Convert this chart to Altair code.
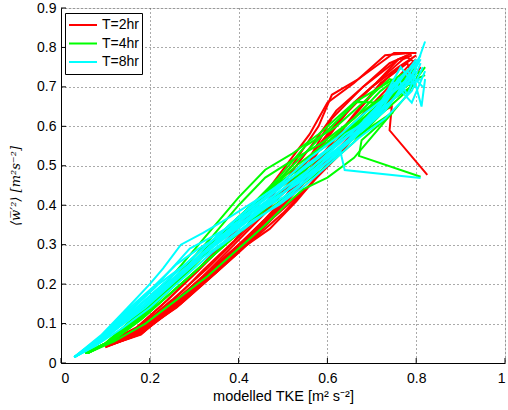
import altair as alt
import pandas as pd

series_names = ["T=2hr", "T=4hr", "T=8hr"]
series_colors = ["#ff0000", "#00ff00", "#00ffff"]

x_ticks = [0, 0.2, 0.4, 0.6, 0.8, 1.0]
y_ticks = [0, 0.1, 0.2, 0.3, 0.4, 0.5, 0.6, 0.7, 0.8, 0.9]

# T=2hr profiles
red_x = [
    [0.10, 0.17, 0.24, 0.31, 0.38, 0.45, 0.52, 0.58, 0.61, 0.67, 0.75, 0.80],
    [0.10, 0.175, 0.25, 0.32, 0.39, 0.46, 0.53, 0.60, 0.66, 0.72, 0.77, 0.79],
    [0.10, 0.18, 0.26, 0.33, 0.40, 0.47, 0.54, 0.61, 0.67, 0.73, 0.78, 0.80],
    [0.10, 0.18, 0.27, 0.34, 0.41, 0.48, 0.55, 0.62, 0.68, 0.74, 0.79, 0.81],
    [0.10, 0.18, 0.28, 0.35, 0.40, 0.47, 0.53, 0.59, 0.65, 0.71, 0.77, 0.80],
    [0.105, 0.175, 0.26, 0.34, 0.42, 0.49, 0.56, 0.63, 0.69, 0.745, 0.74, 0.825],
    [0.10, 0.17, 0.25, 0.33, 0.41, 0.50, 0.56, 0.61, 0.68, 0.76, 0.78, 0.80],
    [0.10, 0.18, 0.26, 0.33, 0.40, 0.46, 0.52, 0.59, 0.66, 0.72, 0.78, 0.79],
    [0.10, 0.175, 0.25, 0.32, 0.39, 0.45, 0.51, 0.57, 0.62, 0.68, 0.74, 0.78],
    [0.10, 0.18, 0.26, 0.33, 0.40, 0.47, 0.53, 0.59, 0.64, 0.70, 0.76, 0.80],
    [0.10, 0.18, 0.27, 0.34, 0.41, 0.48, 0.54, 0.60, 0.66, 0.71, 0.76, 0.79],
    [0.10, 0.175, 0.26, 0.34, 0.42, 0.50, 0.57, 0.64, 0.70, 0.75, 0.79],
    [0.10, 0.18, 0.27, 0.35, 0.43, 0.50, 0.56, 0.62, 0.68, 0.74, 0.80],
    [0.10, 0.17, 0.24, 0.31, 0.38, 0.44, 0.50, 0.56, 0.60, 0.66, 0.73, 0.78],
]
red_y = [
    [0.05, 0.09, 0.16, 0.24, 0.32, 0.41, 0.50, 0.60, 0.68, 0.72, 0.786, 0.786],
    [0.047, 0.085, 0.15, 0.22, 0.30, 0.38, 0.48, 0.58, 0.66, 0.72, 0.77, 0.78],
    [0.045, 0.08, 0.14, 0.21, 0.28, 0.36, 0.45, 0.55, 0.62, 0.69, 0.75, 0.77],
    [0.04, 0.075, 0.15, 0.22, 0.29, 0.37, 0.44, 0.52, 0.60, 0.67, 0.72, 0.75],
    [0.042, 0.072, 0.17, 0.23, 0.285, 0.34, 0.41, 0.49, 0.57, 0.63, 0.70, 0.74],
    [0.045, 0.08, 0.15, 0.23, 0.31, 0.39, 0.47, 0.55, 0.62, 0.65, 0.59, 0.477],
    [0.05, 0.085, 0.16, 0.24, 0.33, 0.43, 0.52, 0.62, 0.70, 0.77, 0.775, 0.76],
    [0.044, 0.078, 0.155, 0.225, 0.30, 0.365, 0.44, 0.53, 0.63, 0.71, 0.76, 0.73],
    [0.048, 0.082, 0.155, 0.235, 0.31, 0.39, 0.47, 0.56, 0.64, 0.70, 0.76, 0.78],
    [0.043, 0.076, 0.15, 0.22, 0.295, 0.37, 0.46, 0.56, 0.63, 0.70, 0.75, 0.78],
    [0.041, 0.074, 0.155, 0.225, 0.30, 0.38, 0.47, 0.57, 0.66, 0.71, 0.77, 0.785],
    [0.046, 0.079, 0.16, 0.24, 0.32, 0.41, 0.50, 0.60, 0.68, 0.74, 0.77],
    [0.042, 0.074, 0.16, 0.235, 0.31, 0.38, 0.45, 0.53, 0.61, 0.69, 0.76],
    [0.05, 0.088, 0.16, 0.235, 0.315, 0.40, 0.49, 0.58, 0.66, 0.71, 0.78, 0.785],
]

# T=4hr profiles
green_x = [
    [0.055, 0.10, 0.16, 0.22, 0.28, 0.34, 0.40, 0.46, 0.52, 0.58, 0.66, 0.72, 0.78, 0.80],
    [0.055, 0.11, 0.17, 0.23, 0.29, 0.35, 0.41, 0.47, 0.53, 0.60, 0.67, 0.73, 0.79],
    [0.06, 0.12, 0.18, 0.24, 0.30, 0.36, 0.42, 0.48, 0.54, 0.61, 0.68, 0.74, 0.80],
    [0.06, 0.12, 0.19, 0.26, 0.33, 0.40, 0.46, 0.515, 0.545, 0.60, 0.66, 0.72, 0.78, 0.81],
    [0.055, 0.12, 0.19, 0.26, 0.33, 0.40, 0.47, 0.54, 0.61, 0.70, 0.748, 0.677, 0.671, 0.81],
    [0.055, 0.11, 0.17, 0.24, 0.30, 0.37, 0.44, 0.50, 0.57, 0.63, 0.69, 0.75, 0.80],
    [0.06, 0.12, 0.18, 0.25, 0.32, 0.39, 0.45, 0.52, 0.58, 0.64, 0.70, 0.76, 0.82],
    [0.055, 0.10, 0.16, 0.22, 0.28, 0.35, 0.42, 0.49, 0.55, 0.62, 0.68, 0.74, 0.80],
    [0.06, 0.12, 0.18, 0.25, 0.32, 0.39, 0.46, 0.53, 0.60, 0.666, 0.72, 0.78],
    [0.055, 0.11, 0.17, 0.23, 0.29, 0.36, 0.43, 0.50, 0.57, 0.64, 0.70, 0.76, 0.81],
    [0.06, 0.12, 0.18, 0.24, 0.30, 0.36, 0.42, 0.48, 0.55, 0.62, 0.68, 0.75, 0.80],
    [0.055, 0.10, 0.16, 0.22, 0.28, 0.34, 0.40, 0.46, 0.53, 0.59, 0.66, 0.72, 0.79],
    [0.06, 0.12, 0.19, 0.26, 0.33, 0.40, 0.47, 0.54, 0.60, 0.66, 0.72, 0.78, 0.82],
    [0.055, 0.11, 0.18, 0.25, 0.31, 0.38, 0.44, 0.50, 0.56, 0.62, 0.69, 0.75, 0.80],
]
green_y = [
    [0.025, 0.05, 0.11, 0.18, 0.26, 0.34, 0.42, 0.49, 0.53, 0.58, 0.66, 0.70, 0.74, 0.76],
    [0.025, 0.055, 0.11, 0.17, 0.24, 0.31, 0.38, 0.44, 0.50, 0.56, 0.63, 0.68, 0.73],
    [0.025, 0.06, 0.11, 0.17, 0.23, 0.29, 0.35, 0.42, 0.48, 0.55, 0.61, 0.67, 0.72],
    [0.025, 0.055, 0.10, 0.16, 0.22, 0.29, 0.35, 0.41, 0.44, 0.47, 0.52, 0.60, 0.68, 0.74],
    [0.025, 0.06, 0.12, 0.19, 0.26, 0.33, 0.40, 0.47, 0.53, 0.60, 0.636, 0.565, 0.525, 0.472],
    [0.025, 0.055, 0.12, 0.19, 0.26, 0.34, 0.41, 0.45, 0.51, 0.57, 0.64, 0.70, 0.75],
    [0.025, 0.06, 0.12, 0.20, 0.28, 0.36, 0.42, 0.47, 0.52, 0.58, 0.64, 0.70, 0.73],
    [0.025, 0.05, 0.10, 0.16, 0.23, 0.31, 0.39, 0.47, 0.55, 0.60, 0.66, 0.72, 0.70],
    [0.025, 0.06, 0.12, 0.19, 0.27, 0.35, 0.43, 0.51, 0.59, 0.662, 0.66, 0.71],
    [0.025, 0.055, 0.115, 0.185, 0.25, 0.32, 0.39, 0.46, 0.53, 0.59, 0.65, 0.71, 0.74],
    [0.025, 0.06, 0.115, 0.18, 0.25, 0.32, 0.39, 0.45, 0.50, 0.55, 0.62, 0.68, 0.72],
    [0.025, 0.05, 0.105, 0.17, 0.245, 0.32, 0.40, 0.47, 0.52, 0.56, 0.62, 0.69, 0.75],
    [0.025, 0.06, 0.12, 0.19, 0.26, 0.33, 0.39, 0.45, 0.50, 0.56, 0.63, 0.69, 0.75],
    [0.025, 0.055, 0.12, 0.20, 0.27, 0.35, 0.41, 0.46, 0.52, 0.57, 0.62, 0.67, 0.71],
]

# T=8hr profiles
cyan_x = [
    [0.03, 0.09, 0.15, 0.20, 0.23, 0.27, 0.32, 0.38, 0.45, 0.52, 0.59, 0.65, 0.70, 0.76, 0.80],
    [0.03, 0.09, 0.15, 0.21, 0.25, 0.29, 0.34, 0.40, 0.47, 0.54, 0.60, 0.66, 0.72, 0.76, 0.78, 0.81],
    [0.03, 0.08, 0.14, 0.20, 0.26, 0.32, 0.38, 0.44, 0.50, 0.56, 0.62, 0.68, 0.74, 0.79, 0.82],
    [0.03, 0.08, 0.14, 0.20, 0.27, 0.34, 0.40, 0.46, 0.52, 0.58, 0.63, 0.632, 0.639, 0.81],
    [0.03, 0.08, 0.13, 0.19, 0.25, 0.31, 0.37, 0.43, 0.49, 0.55, 0.61, 0.67, 0.72, 0.765, 0.80, 0.812, 0.82],
    [0.03, 0.085, 0.14, 0.20, 0.26, 0.32, 0.38, 0.44, 0.50, 0.56, 0.62, 0.68, 0.74, 0.80],
    [0.03, 0.09, 0.15, 0.21, 0.27, 0.33, 0.39, 0.45, 0.51, 0.57, 0.63, 0.69, 0.75, 0.81],
    [0.03, 0.08, 0.13, 0.19, 0.25, 0.31, 0.37, 0.43, 0.49, 0.55, 0.61, 0.67, 0.73, 0.79, 0.815],
    [0.03, 0.09, 0.15, 0.22, 0.28, 0.34, 0.40, 0.46, 0.52, 0.58, 0.64, 0.70, 0.76, 0.80],
    [0.03, 0.09, 0.15, 0.21, 0.26, 0.31, 0.37, 0.44, 0.51, 0.58, 0.65, 0.71, 0.75, 0.79, 0.82],
    [0.03, 0.08, 0.14, 0.20, 0.26, 0.32, 0.38, 0.44, 0.50, 0.56, 0.62, 0.68, 0.73, 0.77, 0.81],
    [0.03, 0.085, 0.14, 0.20, 0.26, 0.32, 0.38, 0.44, 0.50, 0.56, 0.61, 0.66, 0.70, 0.74, 0.78, 0.815],
    [0.03, 0.08, 0.13, 0.19, 0.25, 0.31, 0.37, 0.43, 0.49, 0.55, 0.61, 0.67, 0.72, 0.76, 0.80],
    [0.03, 0.09, 0.15, 0.22, 0.28, 0.34, 0.40, 0.47, 0.54, 0.60, 0.66, 0.72, 0.77, 0.81],
]
cyan_y = [
    [0.015, 0.07, 0.14, 0.20, 0.24, 0.30, 0.33, 0.37, 0.42, 0.47, 0.53, 0.58, 0.63, 0.70, 0.74],
    [0.015, 0.065, 0.13, 0.19, 0.24, 0.29, 0.32, 0.36, 0.41, 0.46, 0.52, 0.58, 0.65, 0.72, 0.68, 0.76],
    [0.015, 0.05, 0.10, 0.16, 0.22, 0.28, 0.34, 0.39, 0.44, 0.49, 0.55, 0.61, 0.66, 0.72, 0.815],
    [0.015, 0.045, 0.09, 0.14, 0.21, 0.28, 0.33, 0.38, 0.43, 0.49, 0.535, 0.523, 0.489, 0.469],
    [0.015, 0.05, 0.10, 0.15, 0.21, 0.27, 0.32, 0.37, 0.42, 0.48, 0.54, 0.60, 0.66, 0.75, 0.70, 0.65, 0.72],
    [0.015, 0.055, 0.11, 0.17, 0.23, 0.29, 0.35, 0.41, 0.46, 0.52, 0.57, 0.63, 0.68, 0.73],
    [0.015, 0.06, 0.12, 0.18, 0.24, 0.30, 0.36, 0.40, 0.45, 0.50, 0.55, 0.60, 0.67, 0.78],
    [0.015, 0.045, 0.09, 0.14, 0.20, 0.26, 0.31, 0.36, 0.40, 0.45, 0.51, 0.57, 0.62, 0.69, 0.75],
    [0.015, 0.065, 0.125, 0.20, 0.25, 0.31, 0.37, 0.42, 0.47, 0.52, 0.58, 0.62, 0.72, 0.76],
    [0.015, 0.068, 0.135, 0.195, 0.25, 0.29, 0.33, 0.38, 0.44, 0.50, 0.56, 0.64, 0.71, 0.66, 0.74],
    [0.015, 0.05, 0.10, 0.155, 0.215, 0.275, 0.325, 0.375, 0.43, 0.48, 0.54, 0.59, 0.64, 0.70, 0.72],
    [0.015, 0.055, 0.105, 0.16, 0.22, 0.28, 0.33, 0.38, 0.42, 0.47, 0.52, 0.58, 0.63, 0.69, 0.74, 0.70],
    [0.015, 0.048, 0.095, 0.15, 0.21, 0.27, 0.33, 0.39, 0.44, 0.50, 0.55, 0.59, 0.64, 0.71, 0.77],
    [0.015, 0.062, 0.12, 0.185, 0.24, 0.30, 0.35, 0.41, 0.46, 0.51, 0.57, 0.64, 0.69, 0.77],
]

rows = []
for name, xs_all, ys_all in zip(series_names, [red_x, green_x, cyan_x], [red_y, green_y, cyan_y]):
    for li, (xs, ys) in enumerate(zip(xs_all, ys_all)):
        for k, (xv, yv) in enumerate(zip(xs, ys)):
            rows.append({"x": xv, "y": yv, "series": name, "line": f"{name}-{li:02d}", "k": k})
df = pd.DataFrame(rows)

FONT = "Liberation Sans"

xscale = alt.Scale(domain=[0, 1], nice=False, zero=False)
yscale = alt.Scale(domain=[0, 0.9], nice=False, zero=False)

xaxis = alt.Axis(values=x_ticks, format="~g", title="modelled TKE [m² s⁻²]",
                 grid=True, gridDash=[1, 3], gridColor="#555", gridWidth=1,
                 domainColor="#000", ticks=False, labelPadding=8, labelOverlap=False,
                 labelFontSize=14, labelColor="#000", labelFont=FONT,
                 titleFont=FONT, titleFontSize=14.5, titleFontWeight="normal",
                 titleColor="#000", titlePadding=4)
yaxis = alt.Axis(values=y_ticks, format="~g", title="⟨w̅′²⟩ [m²s⁻²]",
                 grid=True, gridDash=[1, 3], gridColor="#555", gridWidth=1,
                 domainColor="#000", ticks=False, labelPadding=5, labelOverlap=False,
                 labelFontSize=14, labelColor="#000", labelFont=FONT,
                 titleFont="DejaVu Serif", titleFontSize=13, titleFontStyle="italic",
                 titleFontWeight="normal", titleColor="#000", titlePadding=14)

lines = alt.Chart(df).mark_line(strokeWidth=2, clip=True).encode(
    x=alt.X("x:Q", scale=xscale, axis=xaxis),
    y=alt.Y("y:Q", scale=yscale, axis=yaxis),
    color=alt.Color("series:N",
                    scale=alt.Scale(domain=series_names, range=series_colors),
                    legend=alt.Legend(title=None, orient="none", legendX=4, legendY=5,
                                      symbolType="stroke", symbolSize=784, symbolStrokeWidth=2,
                                      labelFontSize=14, labelFont=FONT, labelColor="#000",
                                      strokeColor="#000", fillColor="#fff", padding=3,
                                      clipHeight=18, rowPadding=0.5, labelOffset=4)),
    detail="line:N",
    order="k:Q",
)

xt = pd.DataFrame({"x": x_ticks})
yt = pd.DataFrame({"y": y_ticks})
xtick_marks = alt.Chart(xt).mark_rule(color="#000", strokeWidth=1).encode(
    x=alt.X("x:Q", scale=xscale, axis=xaxis), y=alt.value(355), y2=alt.value(350))
ytick_marks = alt.Chart(yt).mark_rule(color="#000", strokeWidth=1).encode(
    y=alt.Y("y:Q", scale=yscale, axis=yaxis), x=alt.value(0), x2=alt.value(5))

chart = alt.layer(lines, xtick_marks, ytick_marks).properties(
    width=444, height=355,
    autosize=alt.AutoSizeParams(type="none"),
    padding={"left": 61, "top": 8, "right": 3, "bottom": 47},
).configure_view(stroke=None).configure(background="#fff")

chart.save("out.html", embed_options={"renderer": "svg", "actions": False})
